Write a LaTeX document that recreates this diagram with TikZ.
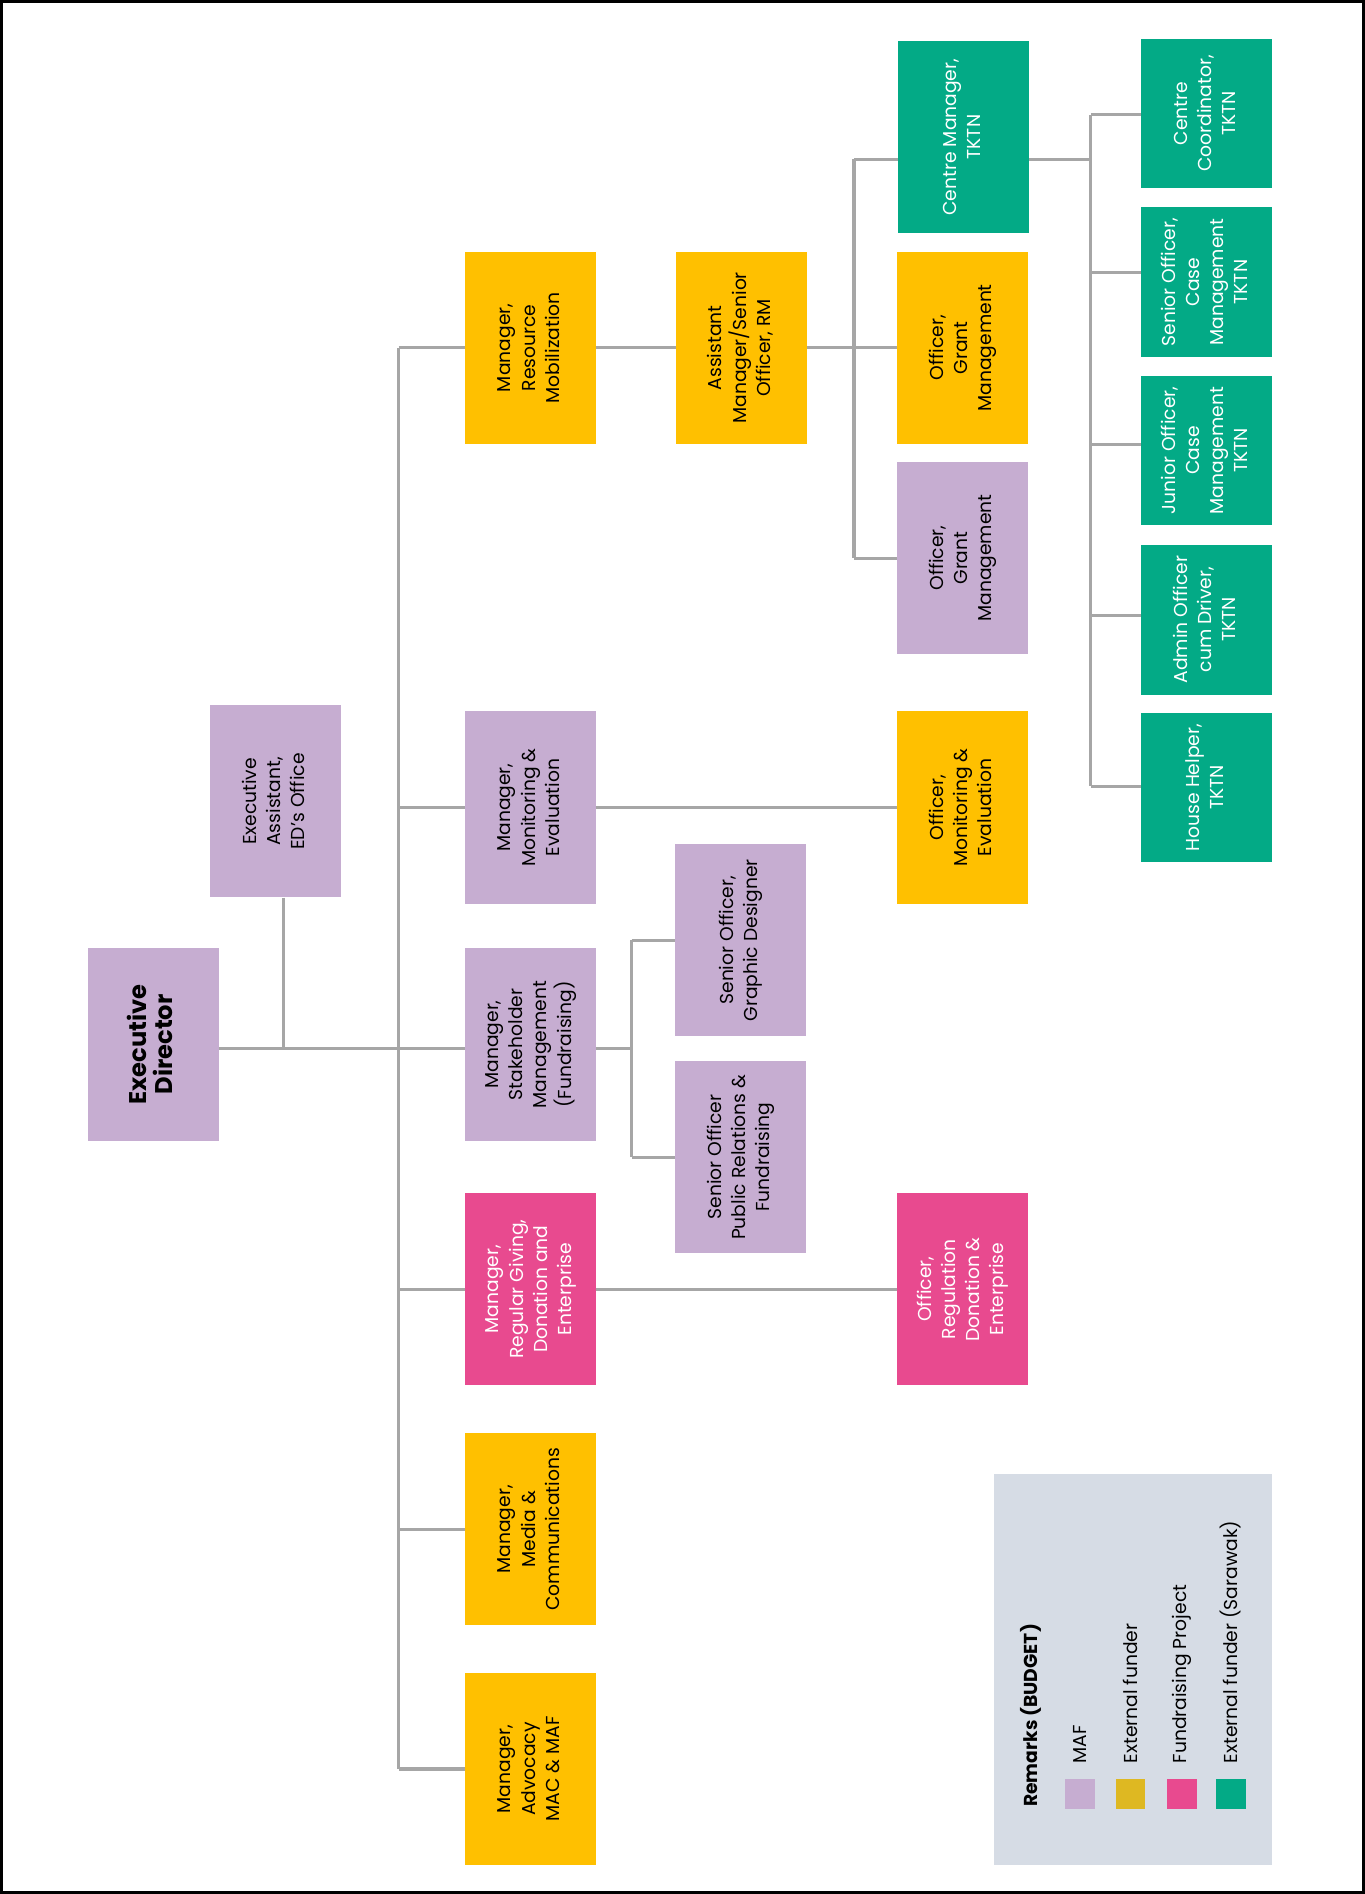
\documentclass[tikz,border=0pt]{standalone}
\usepackage{fontspec}
\setmainfont{Poppins}
\usepackage{graphicx}
\definecolor{cpurple}{HTML}{C6ADD1}
\definecolor{cyellow}{HTML}{FFC000}
\definecolor{cpink}{HTML}{E84A8F}
\definecolor{cgreen}{HTML}{03AA86}
\definecolor{clegend}{HTML}{D6DCE5}
\definecolor{cswatch}{HTML}{DEB822}
\definecolor{cline}{HTML}{A6A6A6}
\newcommand{\rtx}[1]{\rotatebox{90}{\begin{tabular}{@{}c@{}}#1\end{tabular}}}
\tikzset{
  box/.style={rectangle, inner sep=0pt, minimum width=108pt, minimum height=159pt, font=\fontsize{15.5}{20}\selectfont},
  sbox/.style={box, minimum height=124pt},
  maf/.style={fill=cpurple, text=black},
  ext/.style={fill=cyellow, text=black},
  fund/.style={fill=cpink, text=white},
  sar/.style={fill=cgreen, text=white},
  conn/.style={draw=cline, line width=2.5pt},
  legtxt/.style={rotate=90, anchor=west, inner sep=0pt, font=\fontsize{15.5}{20}\selectfont},
  swatch/.style={minimum width=24.5pt, minimum height=24.5pt, inner sep=0pt}
}
\begin{document}
\begin{tikzpicture}[x=1pt, y=-1pt]
\useasboundingbox (0,0) rectangle (1130,1568);
\draw[line width=2.5pt] (1.5,1.5) rectangle (1128.5,1566.5);

% nodes
\node[box, maf] (ed) at (127,864.7) {\rotatebox{90}{\begin{tabular}{@{}c@{}}\fontsize{20}{24}\selectfont\bfseries Executive\\\fontsize{20}{24}\selectfont\bfseries Director\end{tabular}}};
\node[box, maf] (ea) at (228,663.5) {\rtx{Executive\\Assistant,\\ED’s Office}};

\node[box, ext] (mrm) at (439,288) {\rtx{Manager,\\Resource\\Mobilization}};
\node[box, maf] (mme) at (439,668.5) {\rtx{Manager,\\Monitoring \&\\Evaluation}};
\node[box, maf] (msh) at (439,864.7) {\rtx{Manager,\\Stakeholder\\Management\\(Fundraising)}};
\node[box, fund] (mrg) at (439,1067.3) {\rtx{Manager,\\Regular Giving,\\Donation and\\Enterprise}};
\node[box, ext] (mmc) at (439,1266) {\rtx{Manager,\\Media \&\\Communications}};
\node[box, ext] (mad) at (439,1464.5) {\rtx{Manager,\\Advocacy\\MAC \& MAF}};

\node[box, ext] (asst) at (613.8,288) {\rtx{Assistant\\Manager/Senior\\Officer, RM}};
\node[box, maf] (sog) at (613,778.5) {\rtx{Senior Officer,\\Graphic Designer}};
\node[box, maf] (spr) at (613,958) {\rtx{Senior Officer\\Public Relations \&\\Fundraising}};

\node[box, sar] (cm) at (797.5,113.5) {\rtx{Centre Manager,\\TKTN}};
\node[box, ext] (ogy) at (797,288) {\rtx{Officer,\\Grant\\Management}};
\node[box, maf] (ogp) at (797,462) {\rtx{Officer,\\Grant\\Management}};
\node[box, ext] (ome) at (797,668.5) {\rtx{Officer,\\Monitoring \&\\Evaluation}};
\node[box, fund] (orr) at (797,1067.3) {\rtx{Officer,\\Regulation\\Donation \&\\Enterprise}};

\node[sbox, sar] (cc) at (999,94) {\rtx{Centre\\Coordinator,\\TKTN}};
\node[sbox, sar] (soc) at (999,233.5) {\rtx{Senior Officer,\\Case\\Management\\TKTN}};
\node[sbox, sar] (joc) at (999,373) {\rtx{Junior Officer,\\Case\\Management\\TKTN}};
\node[sbox, sar] (aoc) at (999,513) {\rtx{Admin Officer\\cum Driver,\\TKTN}};
\node[sbox, sar] (hh) at (999,652) {\rtx{House Helper,\\TKTN}};

% connectors
\coordinate (sp1) at (330,0);
\coordinate (sp2) at (707,0);
\coordinate (sp3) at (903,0);
\coordinate (sp4) at (523,0);
\coordinate (cmy) at (797.5,132);
\coordinate (edy) at (127,868);
\coordinate (ccy) at (999,95);
\coordinate (socy) at (999,226);
\coordinate (jocy) at (999,367.7);
\coordinate (aocy) at (999,509.6);
\coordinate (hhy) at (999,651);

\draw[conn] (ed.east |- edy) -- (msh.west |- edy);
\draw[conn] ([xshift=7pt]ea.south) -- ([xshift=7pt]ea.south |- edy);
\draw[conn] (sp1 |- mrm.west) -- (sp1 |- mad.west);
\foreach \m in {mrm,mme,mrg,mmc,mad} {\draw[conn] (sp1 |- \m.west) -- (\m.west);}

\draw[conn] (mrm.east) -- (asst.west);
\draw[conn] (asst.east) -- (sp2 |- asst.east);
\draw[conn] (sp2 |- cmy) -- (sp2 |- ogp.west);
\draw[conn] (sp2 |- cmy) -- (cm.west |- cmy);
\foreach \m in {ogy,ogp} {\draw[conn] (sp2 |- \m.west) -- (\m.west);}

\draw[conn] (cm.east |- cmy) -- (sp3 |- cmy);
\draw[conn] (sp3 |- ccy) -- (sp3 |- hhy);
\foreach \m in {cc,soc,joc,aoc,hh} {\draw[conn] (sp3 |- \m y) -- (\m.west |- \m y);}

\draw[conn] (mme.east) -- (ome.west);
\draw[conn] (msh.east |- edy) -- (sp4 |- edy);
\draw[conn] (sp4 |- sog.west) -- (sp4 |- spr.west);
\foreach \m in {sog,spr} {\draw[conn] (sp4 |- \m.west) -- (\m.west);}
\draw[conn] (mrg.east) -- (orr.west);

% legend
\node[fill=clegend, minimum width=230pt, minimum height=324pt, inner sep=0pt] (leg) at (938,1382) {};
\node[legtxt, font=\fontsize{15.5}{20}\selectfont\bfseries] (legt) at (853.5,1496) {Remarks (BUDGET)};
\node[swatch, fill=cpurple] (s1) at (894,1485) {};
\node[swatch, fill=cswatch] (s2) at (936,1485) {};
\node[swatch, fill=cpink] (s3) at (978.5,1485) {};
\node[swatch, fill=cgreen] (s4) at (1019,1485) {};
\node[legtxt] (l1) at (894,1460) {MAF};
\node[legtxt] (l2) at (936,1460) {External funder};
\node[legtxt] (l3) at (978.5,1460) {Fundraising Project};
\node[legtxt] (l4) at (1019,1460) {External funder (Sarawak)};
\end{tikzpicture}
\end{document}
